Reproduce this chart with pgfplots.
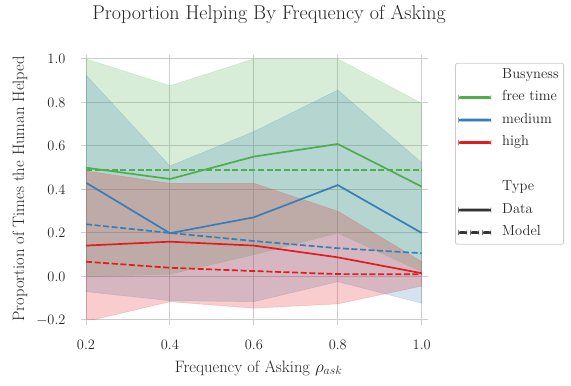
\documentclass[border=0pt]{standalone}
\usepackage{pgfplots}
\pgfplotsset{compat=1.18}
\usepackage{pgfplotstable}
\usepgfplotslibrary{fillbetween}
\definecolor{cgreen}{HTML}{4DAF4A}
\definecolor{cblue}{HTML}{377EB8}
\definecolor{cred}{HTML}{E41A1C}
\definecolor{cgrid}{RGB}{204,204,204}
\definecolor{cdark}{RGB}{51,51,51}
\definecolor{ctext}{RGB}{38,38,38}

% x, band upper, band lower, data mean, model
\pgfplotstableread{
x   u      l       d      m
0.2 1.000  0.000   0.500  0.490
0.4 0.877  0.010   0.448  0.490
0.6 1.000  0.100   0.551  0.490
0.8 1.000  0.200   0.609  0.490
1.0 0.796  0.022   0.413  0.490
}\greentab
\pgfplotstableread{
x   u      l       d      m
0.2 0.926 -0.070   0.431  0.240
0.4 0.508 -0.111   0.199  0.200
0.6 0.666 -0.116   0.272  0.163
0.8 0.857 -0.024   0.420  0.130
1.0 0.523 -0.123   0.200  0.107
}\bluetab
\pgfplotstableread{
x   u      l       d      m
0.2 0.485 -0.207   0.142  0.068
0.4 0.428 -0.116   0.160  0.040
0.6 0.428 -0.146   0.142  0.025
0.8 0.300 -0.126   0.088  0.011
1.0 0.068 -0.044   0.015  0.010
}\redtab

\begin{document}
\begin{tikzpicture}
\begin{axis}[
  at={(86pt,66pt)}, anchor=south west,
  scale only axis, width=342pt, height=265pt,
  xmin=0.2, xmax=1.015, ymin=-0.2, ymax=1.018,
  xtick={0.2,0.4,0.6,0.8,1.0},
  ytick={-0.2,0,0.2,0.4,0.6,0.8,1.0},
  xticklabel style={/pgf/number format/.cd, fixed, fixed zerofill, precision=1, /tikz/.cd, yshift=-12pt},
  yticklabel style={/pgf/number format/.cd, fixed, fixed zerofill, precision=1, /tikz/.cd, xshift=-12pt},
  ticklabel style={font=\fontsize{14}{16}\selectfont, text=ctext},
  axis line style={draw=none},
  grid=major,
  grid style={color=cgrid, line width=1pt},
  tick pos=left, tick align=outside,
  major tick length=5pt,
  tick style={color=cgrid, line width=1pt},
  xlabel={Frequency of Asking $\rho_{ask}$},
  ylabel={Proportion of Times the Human Helped},
  label style={font=\fontsize{16.5}{19}\selectfont, text=ctext},
  xlabel style={at={(axis description cs:0.505,-0.181)}, anchor=center},
  ylabel style={at={(axis description cs:-0.193,0.495)}, anchor=center, rotate=0},
  legend style={at={(axis description cs:1.079,0.970)}, anchor=north west,
    draw=cgrid, line width=0.8pt, rounded corners=2pt, fill=white,
    font=\fontsize{14.5}{17}\selectfont, text=ctext,
    inner xsep=3pt, inner ysep=3pt, row sep=5pt, column sep=9pt,
    nodes={inner sep=2pt, text height=10pt, text depth=3.5pt}},
  legend cell align=left,
  legend image code/.code={\fill[#1] (0pt,-1pt) rectangle (32pt,1pt);},
]
% bands
\addplot[draw=none, name path=gu, forget plot] table[x=x,y=u]{\greentab};
\addplot[draw=none, name path=gl, forget plot] table[x=x,y=l]{\greentab};
\addplot[fill=cgreen, fill opacity=0.22, draw=cgreen, draw opacity=0.2, line width=0.5pt, forget plot] fill between[of=gu and gl];
\addplot[draw=none, name path=bu, forget plot] table[x=x,y=u]{\bluetab};
\addplot[draw=none, name path=bl, forget plot] table[x=x,y=l]{\bluetab};
\addplot[fill=cblue, fill opacity=0.22, draw=cblue, draw opacity=0.2, line width=0.5pt, forget plot] fill between[of=bu and bl];
\addplot[draw=none, name path=ru, forget plot] table[x=x,y=u]{\redtab};
\addplot[draw=none, name path=rl, forget plot] table[x=x,y=l]{\redtab};
\addplot[fill=cred, fill opacity=0.22, draw=cred, draw opacity=0.2, line width=0.5pt, forget plot] fill between[of=ru and rl];
% data lines
\addplot[cgreen, line width=1.7pt, forget plot] table[x=x,y=d]{\greentab};
\addplot[cblue, line width=1.7pt, forget plot] table[x=x,y=d]{\bluetab};
\addplot[cred, line width=1.7pt, forget plot] table[x=x,y=d]{\redtab};
% model lines
\addplot[cgreen, line width=1.7pt, dash pattern=on 6pt off 2.6pt, forget plot] table[x=x,y=m]{\greentab};
\addplot[cblue, line width=1.7pt, dash pattern=on 6pt off 2.6pt, forget plot] table[x=x,y=m]{\bluetab};
\addplot[cred, line width=1.7pt, dash pattern=on 6pt off 2.6pt, forget plot] table[x=x,y=m]{\redtab};
% legend
\addlegendimage{empty legend}\addlegendentry{Busyness}
\addlegendimage{cgreen}\addlegendentry{free time}
\addlegendimage{cblue}\addlegendentry{medium}
\addlegendimage{cred}\addlegendentry{high}
\addlegendimage{empty legend}\addlegendentry{}
\addlegendimage{empty legend}\addlegendentry{Type}
\addlegendimage{cdark}\addlegendentry{Data}
\addlegendimage{legend image code/.code={\fill[cdark] (0pt,-1pt) rectangle (8pt,1pt) (12pt,-1pt) rectangle (20pt,1pt) (24pt,-1pt) rectangle (32pt,1pt);}}\addlegendentry{Model}
\end{axis}
\node[font=\fontsize{20}{23}\selectfont, text=ctext] at (269pt,372pt) {Proportion Helping By Frequency of Asking};
\pgfresetboundingbox
\path[use as bounding box] (0pt,0pt) rectangle (571pt,386pt);
\end{tikzpicture}
\end{document}
